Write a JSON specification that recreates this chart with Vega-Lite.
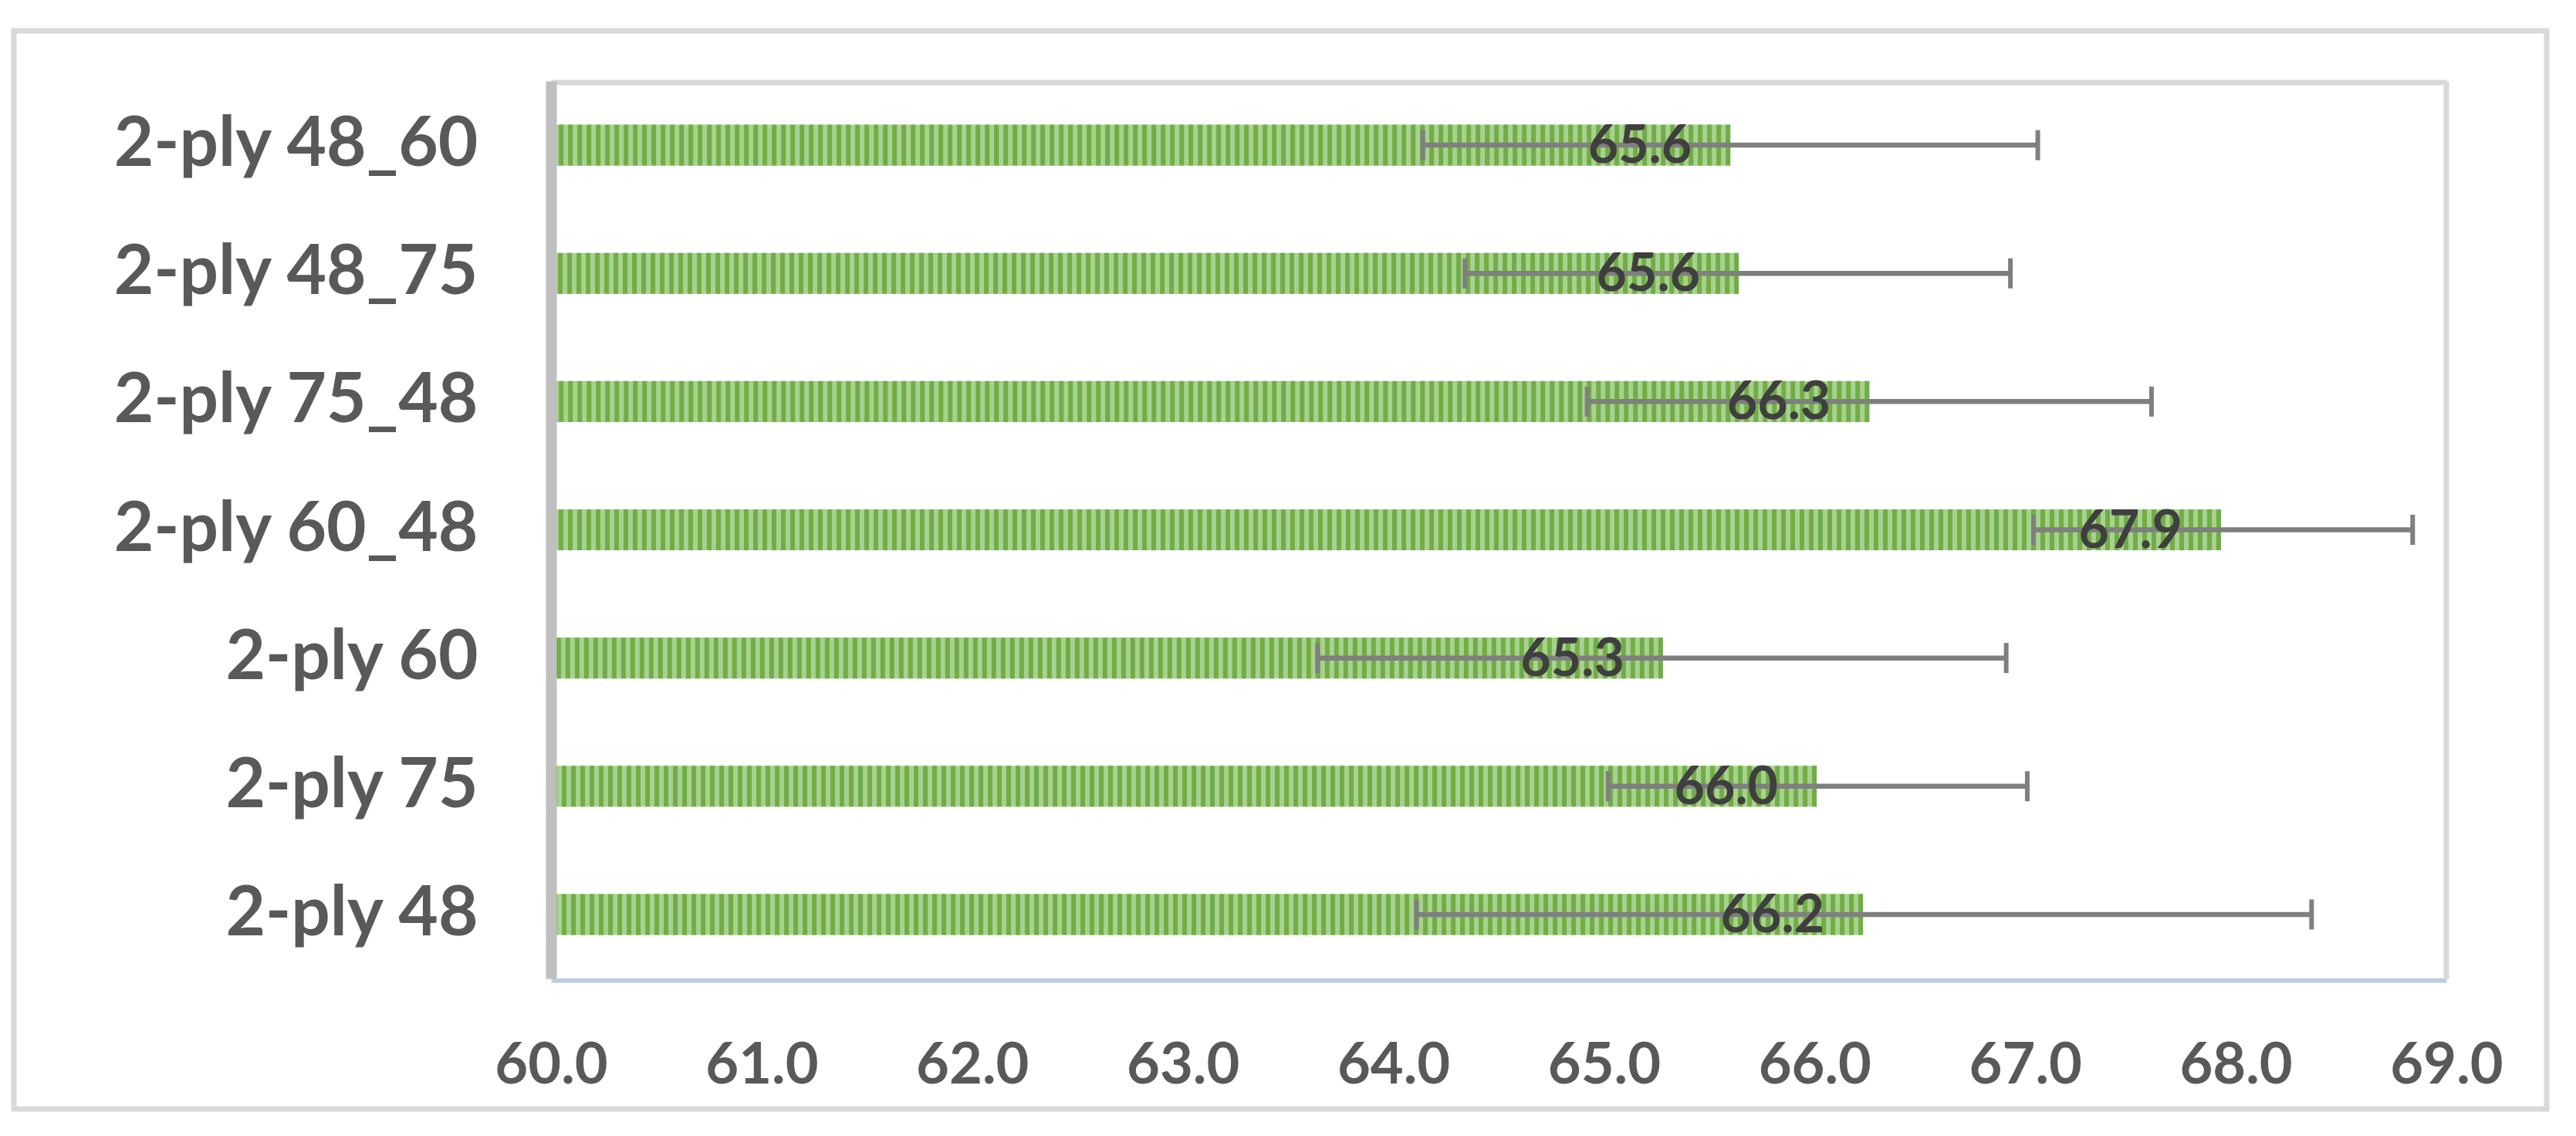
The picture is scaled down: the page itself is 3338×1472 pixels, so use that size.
{
  "$schema": "https://vega.github.io/schema/vega-lite/v6.json",
  "width": 3282,
  "height": 1397,
  "autosize": {"type": "none"},
  "padding": {"left": 18, "top": 40, "right": 38, "bottom": 35},
  "background": "white",
  "config": {
    "view": {"stroke": "#d9d9d9", "strokeWidth": 7},
    "font": "Lato"
  },
  "data": {
    "values": [
      {"cat": "2-ply 48_60", "value": 65.6, "lo": 64.14, "hi": 67.06},
      {"cat": "2-ply 48_75", "value": 65.64, "lo": 64.34, "hi": 66.93},
      {"cat": "2-ply 75_48", "value": 66.26, "lo": 64.92, "hi": 67.6},
      {"cat": "2-ply 60_48", "value": 67.93, "lo": 67.04, "hi": 68.84},
      {"cat": "2-ply 60", "value": 65.28, "lo": 63.64, "hi": 66.91},
      {"cat": "2-ply 75", "value": 66.01, "lo": 65.02, "hi": 67.01},
      {"cat": "2-ply 48", "value": 66.23, "lo": 64.11, "hi": 68.36}
    ]
  },
  "resolve": {"axis": {"x": "independent", "y": "independent"}},
  "layer": [
    {
      "mark": {"type": "bar", "fill": "#a9d18e"},
      "encoding": {
        "y": {
          "field": "cat", "type": "nominal", "sort": null,
          "scale": {"range": [65, 1228], "paddingInner": 0.68, "paddingOuter": 0.34},
          "axis": {
            "orient": "left", "offset": -696, "title": null, "ticks": false, "tickSize": 0,
            "domainColor": "#bfbfbf", "domainWidth": 14, "zindex": 1,
            "labelFont": "Lato", "labelFontWeight": "bold", "labelFontSize": 89,
            "labelColor": "#595959", "labelPadding": 95, "labelLimit": 1000
          }
        },
        "x": {
          "field": "value", "type": "quantitative",
          "scale": {"domain": [60, 69], "range": [696, 3152], "nice": false, "zero": false},
          "axis": {
            "orient": "bottom", "offset": -167, "title": null, "ticks": false, "tickSize": 0,
            "grid": false, "values": [60, 61, 62, 63, 64, 65, 66, 67, 68, 69], "format": ".1f",
            "labelFlush": false, "labelOverlap": false,
            "domainColor": "#bccbe5", "domainWidth": 6,
            "labelFont": "Lato", "labelFontWeight": "bold", "labelFontSize": 74,
            "labelColor": "#595959", "labelPadding": 75, "labelBaseline": "top"
          }
        },
        "x2": {"datum": 60}
      }
    },
    {
      "mark": {"type": "rule", "stroke": "#70ad47", "strokeWidth": 53, "strokeDash": [6, 6], "strokeCap": "butt"},
      "encoding": {
        "y": {"field": "cat", "type": "nominal", "sort": null, "axis": null},
        "x": {"field": "value", "type": "quantitative", "axis": null},
        "x2": {"datum": 60}
      }
    },
    {
      "mark": {"type": "rule", "stroke": "#7f7f7f", "strokeWidth": 6.5},
      "encoding": {
        "y": {
          "field": "cat", "type": "nominal", "sort": null,
          "axis": {
            "orient": "right", "offset": -130.5, "title": null, "labels": false, "ticks": false,
            "domainColor": "#d9d9d9", "domainWidth": 7
          }
        },
        "x": {
          "field": "lo", "type": "quantitative",
          "axis": {
            "orient": "top", "offset": -66.5, "title": null, "labels": false, "ticks": false,
            "grid": false, "domainColor": "#d9d9d9", "domainWidth": 7
          }
        },
        "x2": {"field": "hi"}
      }
    },
    {
      "mark": {"type": "tick", "color": "#7f7f7f", "size": 39, "thickness": 6, "opacity": 1},
      "encoding": {
        "y": {"field": "cat", "type": "nominal", "sort": null, "axis": null},
        "x": {"field": "lo", "type": "quantitative", "axis": null}
      }
    },
    {
      "mark": {"type": "tick", "color": "#7f7f7f", "size": 39, "thickness": 6, "opacity": 1},
      "encoding": {
        "y": {"field": "cat", "type": "nominal", "sort": null, "axis": null},
        "x": {"field": "hi", "type": "quantitative", "axis": null}
      }
    },
    {
      "mark": {"type": "text", "align": "right", "baseline": "middle", "dx": -50, "dy": 3, "font": "Lato", "fontWeight": "bold", "fontSize": 68, "color": "#3f3f3f"},
      "encoding": {
        "y": {"field": "cat", "type": "nominal", "sort": null, "axis": null},
        "x": {"field": "value", "type": "quantitative", "axis": null},
        "text": {"field": "value", "type": "quantitative", "format": ".1f"}
      }
    }
  ]
}
